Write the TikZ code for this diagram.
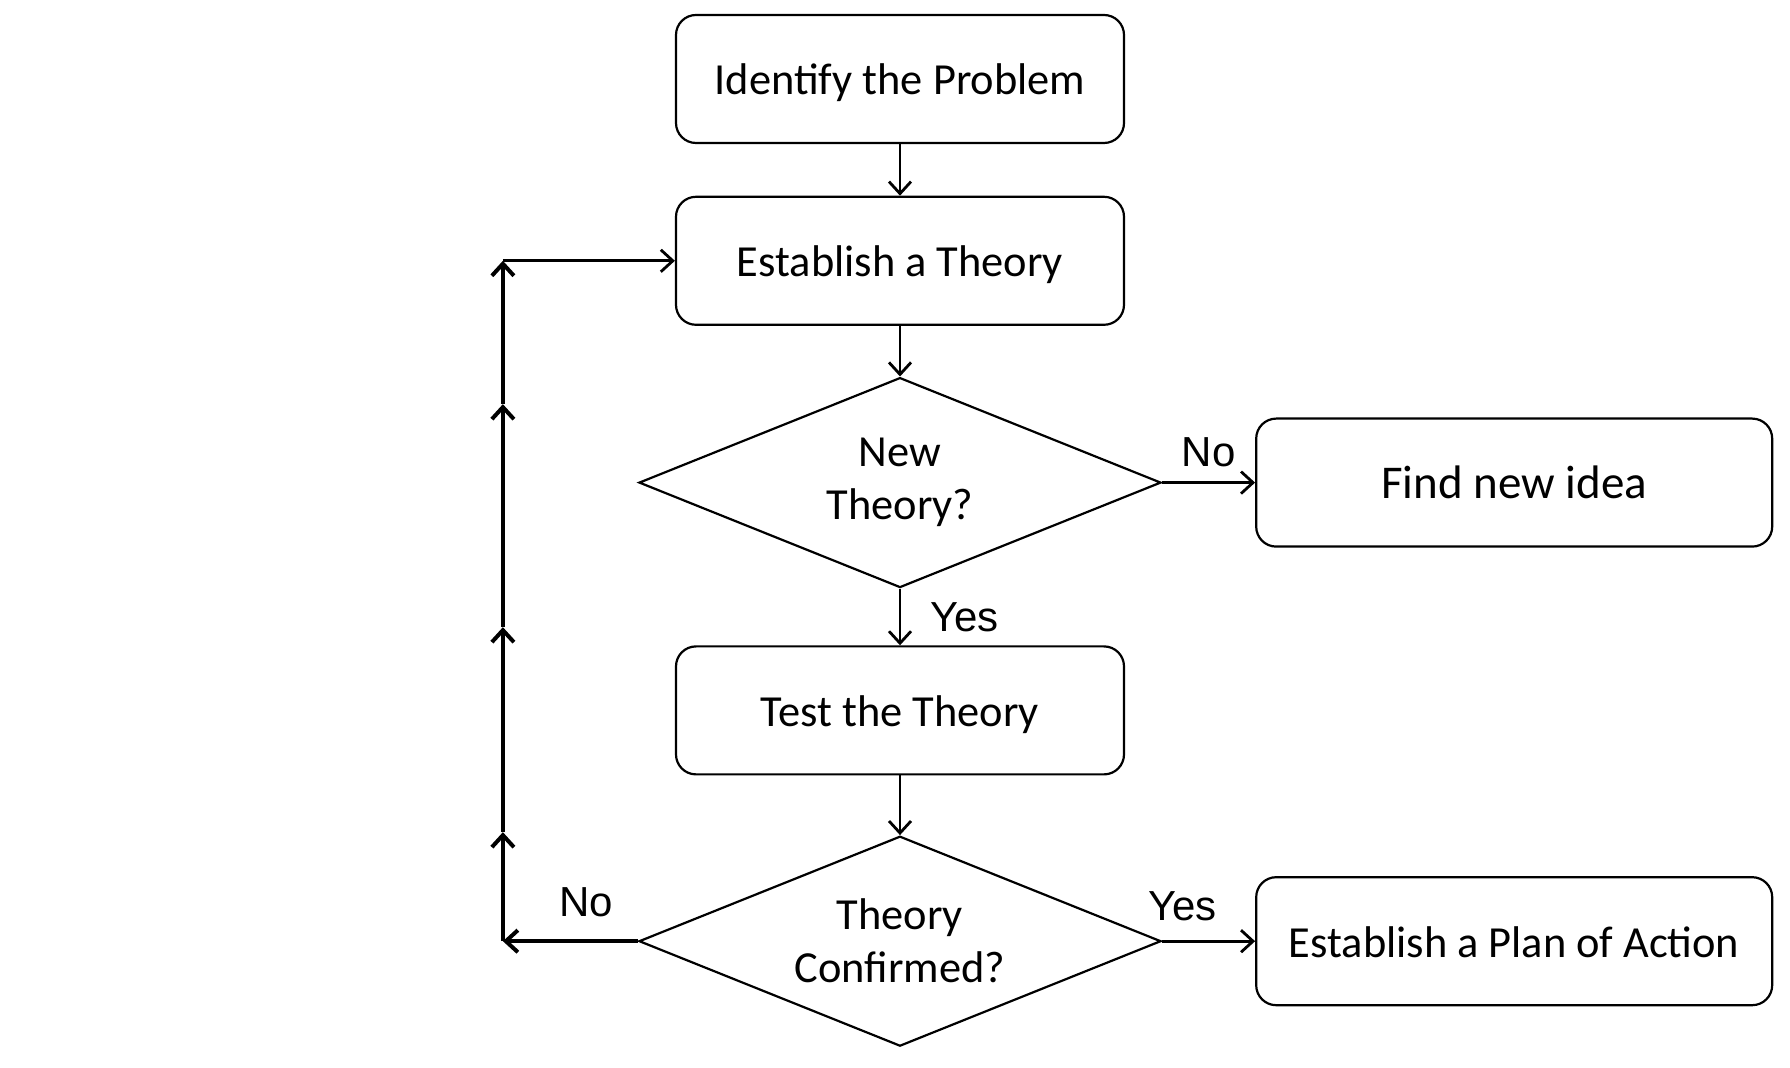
\documentclass[tikz,border=0pt]{standalone}
\usepackage{fontspec}
\setmainfont{Carlito}
\newfontfamily\labelfont{Liberation Sans}
\usetikzlibrary{positioning,shapes.geometric,arrows.meta}

\begin{document}
\begin{tikzpicture}[x=0.5pt,y=-0.5pt,
	box/.style={rectangle,rounded corners=10pt,draw=black,line width=1.1pt,minimum width=224pt,minimum height=64pt,text height=20.4pt,text depth=4.4pt,font=\fontsize{22.2}{26.5}\selectfont},
	sidebox/.style={box,minimum width=258pt},
	decision/.style={diamond,aspect=2.5,draw=black,line width=1.1pt,minimum width=261pt,minimum height=105pt,inner sep=0pt,align=center,font=\fontsize{22.2}{26.5}\selectfont},
	lbl/.style={font=\labelfont\fontsize{21}{24}\selectfont},
	flow/.style={line width=1.4pt,-{Straight Barb[length=6pt,width=11pt]}},
	loopline/.style={flow,line width=2pt}]
		\useasboundingbox (0,0) rectangle (1790,1068);
		\node[box] (prob) at (900,79) {Identify the Problem};
		\node[box] (est) [below = 25.8pt of prob] {Establish a Theory};
		\node[decision] (newq) [below = 25.3pt of est] {New\\Theory?};
		\node[box] (test) [below = 28.3pt of newq] {Test the Theory};
		\node[decision] (conf) [below = 29.8pt of test] {Theory\\Confirmed?};
		\node[sidebox,font=\fontsize{23.5}{28}\selectfont] (idea) [right = 46.5pt of newq] {Find new idea};
		\node[sidebox] (plan) [right = 46.5pt of conf] {Establish a Plan of Action};
		% the way back to a new theory
		\coordinate[left = 67.5pt of conf.west] (lb);
		\coordinate[above = 54.5pt of lb] (l1);
		\coordinate[above = 157pt of lb] (l2);
		\coordinate[above = 268.5pt of lb] (l3);
		\coordinate (lt) at (lb |- est.west);
		\draw[flow] (prob) -- (est);
		\draw[flow] (est) -- (newq);
		\draw[flow] (newq.east) -- node[lbl,above=4pt]{No} (idea);
		\draw[flow] (newq) -- node[lbl,right=11pt]{Yes} (test);
		\draw[flow] (test) -- (conf);
		\draw[flow] (conf.east) -- node[lbl,above=6pt,pos=0.22]{Yes} (plan);
		\draw[loopline] (conf.west) -- node[lbl,above=8pt,pos=0.385]{No} (lb);
		\draw[loopline] (lb) -- (l1);
		\draw[loopline] (l1) -- (l2);
		\draw[loopline] (l2) -- (l3);
		\draw[loopline] (l3) -- (lt);
		\draw[flow] (lt) -- (est.west);
	\end{tikzpicture}
\end{document}
